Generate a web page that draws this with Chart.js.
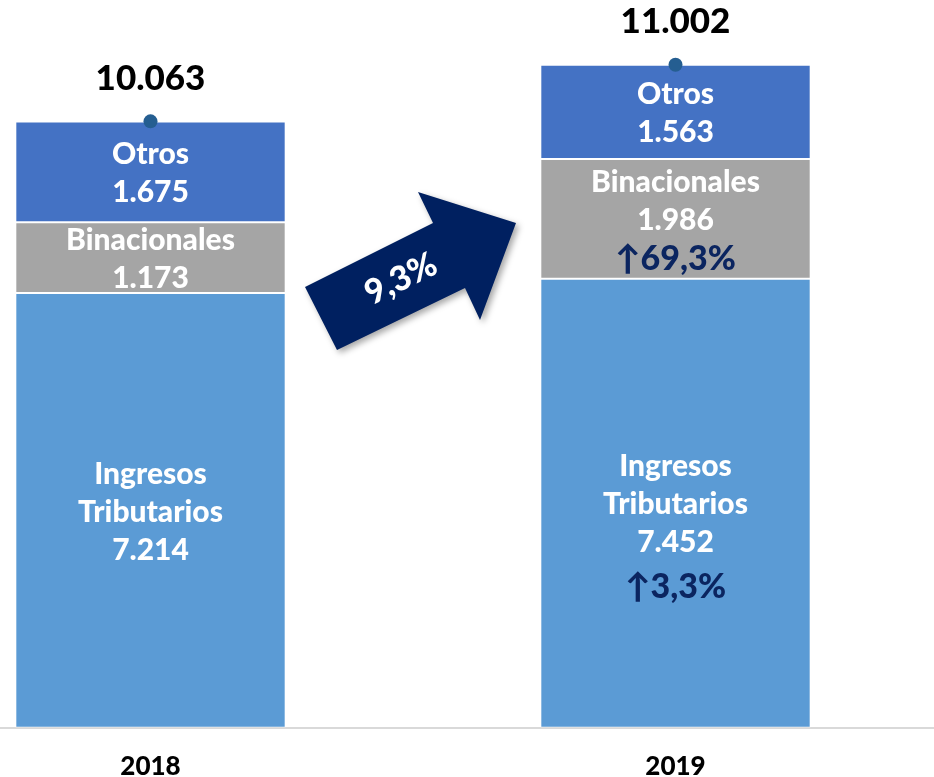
<!DOCTYPE html>
<html>
<head>
<meta charset="utf-8">
<script src="https://cdn.jsdelivr.net/npm/chart.js@4.4.1/dist/chart.umd.min.js"></script>
<style>
  html, body { margin: 0; padding: 0; background: #fff; overflow: hidden; }
  #wrap { width: 934px; height: 777px; position: relative; overflow: hidden; }
  #c { position: absolute; left: -119px; top: 0; }
</style>
</head>
<body>
<div id="wrap"><canvas id="c" width="1064" height="805"></canvas></div>
<script>
// ---- data ----
const years = ['2018', '2019'];
const ingresosTributarios = [7214, 7452];
const binacionales = [1173, 1986];
const otros = [1675, 1563];
const totals = [10063, 11002];
const growthIngresos = [null, '3,3%'];
const growthBinacionales = [null, '69,3%'];
const totalGrowth = '9,3%';

const FONT = 'Lato, "Open Sans", sans-serif';
const NAVY = '#0b2560';
const W = 900;

function fmt(v) {
  return String(v).replace(/\B(?=(\d{3})+(?!\d))/g, '.');
}

const segmentLabels = {
  0: { name: ['Ingresos', 'Tributarios'], growth: growthIngresos },
  1: { name: ['Binacionales'], growth: growthBinacionales },
  2: { name: ['Otros'], growth: null }
};

const labelPlugin = {
  id: 'labels',
  afterDatasetsDraw(chart) {
    const ctx = chart.ctx;
    ctx.save();
    ctx.textAlign = 'center';
    ctx.textBaseline = 'middle';
    [0, 1, 2].forEach(di => {
      const meta = chart.getDatasetMeta(di);
      const ds = chart.data.datasets[di];
      const info = segmentLabels[di];
      meta.data.forEach((el, i) => {
        const top = el.y, bot = el.base;
        const cx = el.x;
        const center = (top + bot) / 2 + 1.5;
        const lines = info.name.concat([fmt(ds.data[i])]);
        const lh = 38;
        const g = info.growth ? info.growth[i] : null;
        const inBlock = g && (bot - top) < 200;
        const n = lines.length;
        const blockH = (n - 1) * lh + (inBlock ? 39 : 0);
        const y0 = center - blockH / 2;
        ctx.fillStyle = '#ffffff';
        ctx.font = W + ' 30px ' + FONT;
        lines.forEach((t, k) => ctx.fillText(t, cx, y0 + k * lh));
        if (g) {
          const gy = y0 + (n - 1) * lh + (inBlock ? 39 : 44);
          ctx.fillStyle = NAVY;
          ctx.font = W + ' 34px ' + FONT;
          ctx.fillText('\u2191' + g, cx, gy);
        }
      });
    });
    const tmeta = chart.getDatasetMeta(3);
    ctx.fillStyle = '#000';
    ctx.font = W + ' 35px ' + FONT;
    tmeta.data.forEach((pt, i) => {
      ctx.fillText(fmt(totals[i]), pt.x, pt.y - 43);
    });
    // growth arrow between the bars
    const x0 = chart.scales.x.getPixelForValue(0);
    const x1 = chart.scales.x.getPixelForValue(1);
    const dx = (x0 + x1) / 2 - 413;
    const pts = [[305,287],[433,223],[418,192],[516,223],[480,320],[465,288],[337,350]];
    ctx.save();
    ctx.shadowColor = 'rgba(0,0,0,0.35)';
    ctx.shadowBlur = 6;
    ctx.shadowOffsetX = 3;
    ctx.shadowOffsetY = 3;
    ctx.fillStyle = '#002060';
    ctx.beginPath();
    pts.forEach((p, k) => k ? ctx.lineTo(p[0] + dx, p[1]) : ctx.moveTo(p[0] + dx, p[1]));
    ctx.closePath();
    ctx.fill();
    ctx.restore();
    ctx.save();
    ctx.translate(401 + dx, 279);
    ctx.rotate(-26 * Math.PI / 180);
    ctx.fillStyle = '#fff';
    ctx.font = W + ' 34px ' + FONT;
    ctx.fillText(totalGrowth, 0, 0);
    ctx.restore();
    ctx.restore();
  }
};

const barBorder = 'rgba(255,255,255,0.45)';

new Chart(document.getElementById('c'), {
  type: 'bar',
  data: {
    labels: years,
    datasets: [
      { label: 'Ingresos Tributarios', data: ingresosTributarios, backgroundColor: '#5b9bd5', borderColor: barBorder, borderWidth: 1, borderSkipped: false, stack: 's', order: 2 },
      { label: 'Binacionales', data: binacionales, backgroundColor: '#a5a5a5', borderColor: barBorder, borderWidth: 1, borderSkipped: false, stack: 's', order: 2 },
      { label: 'Otros', data: otros, backgroundColor: '#4472c4', borderColor: barBorder, borderWidth: 1, borderSkipped: false, stack: 's', order: 2 },
      { type: 'line', label: 'Total', data: totals, showLine: false, pointRadius: 7, pointBackgroundColor: '#255e91', pointBorderWidth: 0, order: 1 }
    ]
  },
  options: {
    responsive: false,
    devicePixelRatio: 1,
    animation: false,
    events: [],
    layout: { padding: { left: 0, right: 0, top: 5, bottom: 0 } },
    datasets: { bar: { categoryPercentage: 1, barPercentage: 0.515 } },
    plugins: { legend: { display: false }, tooltip: { enabled: false } },
    scales: {
      x: {
        stacked: true,
        grid: { display: false, drawTicks: false },
        border: { display: true, color: '#d9d9d9', width: 2 },
        ticks: { color: '#000', font: { family: FONT, size: 26, weight: W }, padding: 23, maxRotation: 0 }
      },
      y: {
        stacked: true,
        display: false,
        min: 0,
        max: 11960
      }
    }
  },
  plugins: [labelPlugin]
});
</script>
</body>
</html>
